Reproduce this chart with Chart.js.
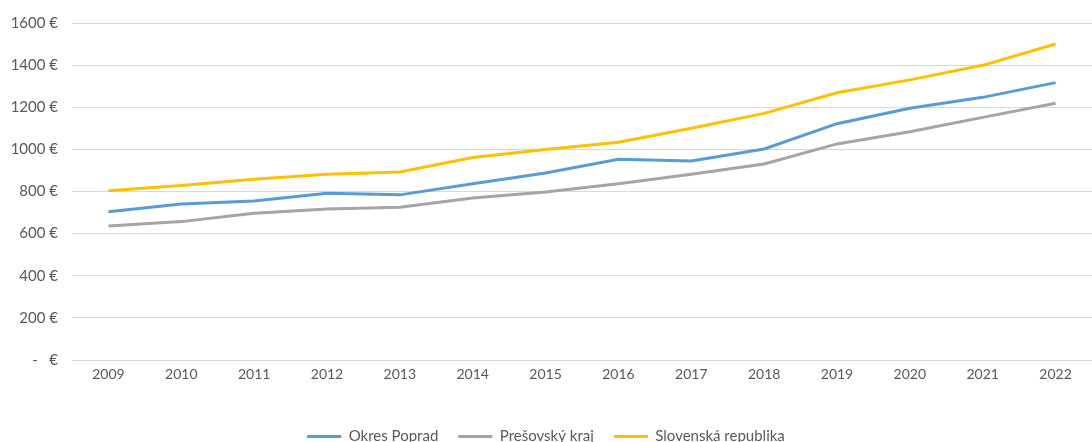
<!DOCTYPE html>
<html>
<head>
<meta charset="utf-8">
<script src="https://cdn.jsdelivr.net/npm/chart.js@4.4.0/dist/chart.umd.min.js"></script>
<style>
html,body{margin:0;padding:0;background:#fff;overflow:hidden;}
#wrap{position:relative;width:1092px;height:454px;}
</style>
</head>
<body>
<div id="wrap"><canvas id="c"></canvas></div>
<script>
const years = ['2009','2010','2011','2012','2013','2014','2015','2016','2017','2018','2019','2020','2021','2022'];
const okresPoprad = [704, 741, 755, 792, 784, 837, 888, 953, 945, 1002, 1122, 1195, 1247, 1317];
const presovskyKraj = [636, 657, 697, 717, 725, 769, 798, 837, 882, 931, 1026, 1084, 1152, 1219];
const slovenskaRepublika = [803, 828, 858, 882, 893, 961, 999, 1034, 1100, 1171, 1269, 1330, 1399, 1500];
const yTicks = [0, 200, 400, 600, 800, 1000, 1200, 1400, 1600];
const seriesNames = ['Okres Poprad', 'Prešovský kraj', 'Slovenská republika'];

const textColor = '#595959';
const gridColor = '#d9d9d9';

function ds(label, data, color) {
  return {label, data, borderColor: color, backgroundColor: color, borderWidth: 3,
    pointRadius: 0, pointHoverRadius: 0, tension: 0, fill: false};
}

const defaultLabels = Chart.defaults.plugins.legend.labels.generateLabels;

new Chart(document.getElementById('c'), {
  type: 'line',
  data: {
    labels: years,
    datasets: [
      ds(seriesNames[0], okresPoprad, '#5B9BD5'),
      ds(seriesNames[1], presovskyKraj, '#A5A5A5'),
      ds(seriesNames[2], slovenskaRepublika, '#FFC000')
    ]
  },
  options: {
    responsive: true,
    maintainAspectRatio: false,
    animation: false,
    layout: {padding: {top: 17, right: 0, left: 0, bottom: 0}},
    plugins: {
      legend: {
        position: 'bottom',
        labels: {color: textColor, font: {family: 'Lato', size: 15}, boxWidth: 34, boxHeight: 3, padding: 20,
          generateLabels: (chart) => defaultLabels(chart).map(l => Object.assign(l, {lineWidth: 0}))}
      },
      tooltip: {enabled: false}
    },
    scales: {
      x: {
        offset: true,
        grid: {display: false, drawTicks: false},
        border: {display: false},
        ticks: {color: textColor, font: {family: 'Lato', size: 14}, padding: 6, maxRotation: 0},
        afterFit: (s) => { s.height = 49; }
      },
      y: {
        min: 0, max: 1600,
        afterBuildTicks: (s) => { s.ticks = yTicks.map(v => ({value: v})); },
        grid: {color: gridColor, lineWidth: 1, drawTicks: false},
        border: {display: false},
        ticks: {color: textColor, font: {family: 'Lato', size: 15}, padding: 14,
          callback: (v) => v === 0 ? '-   €' : v + ' €'},
        afterFit: (s) => { s.width = 72; }
      }
    }
  }
});
</script>
</body>
</html>
